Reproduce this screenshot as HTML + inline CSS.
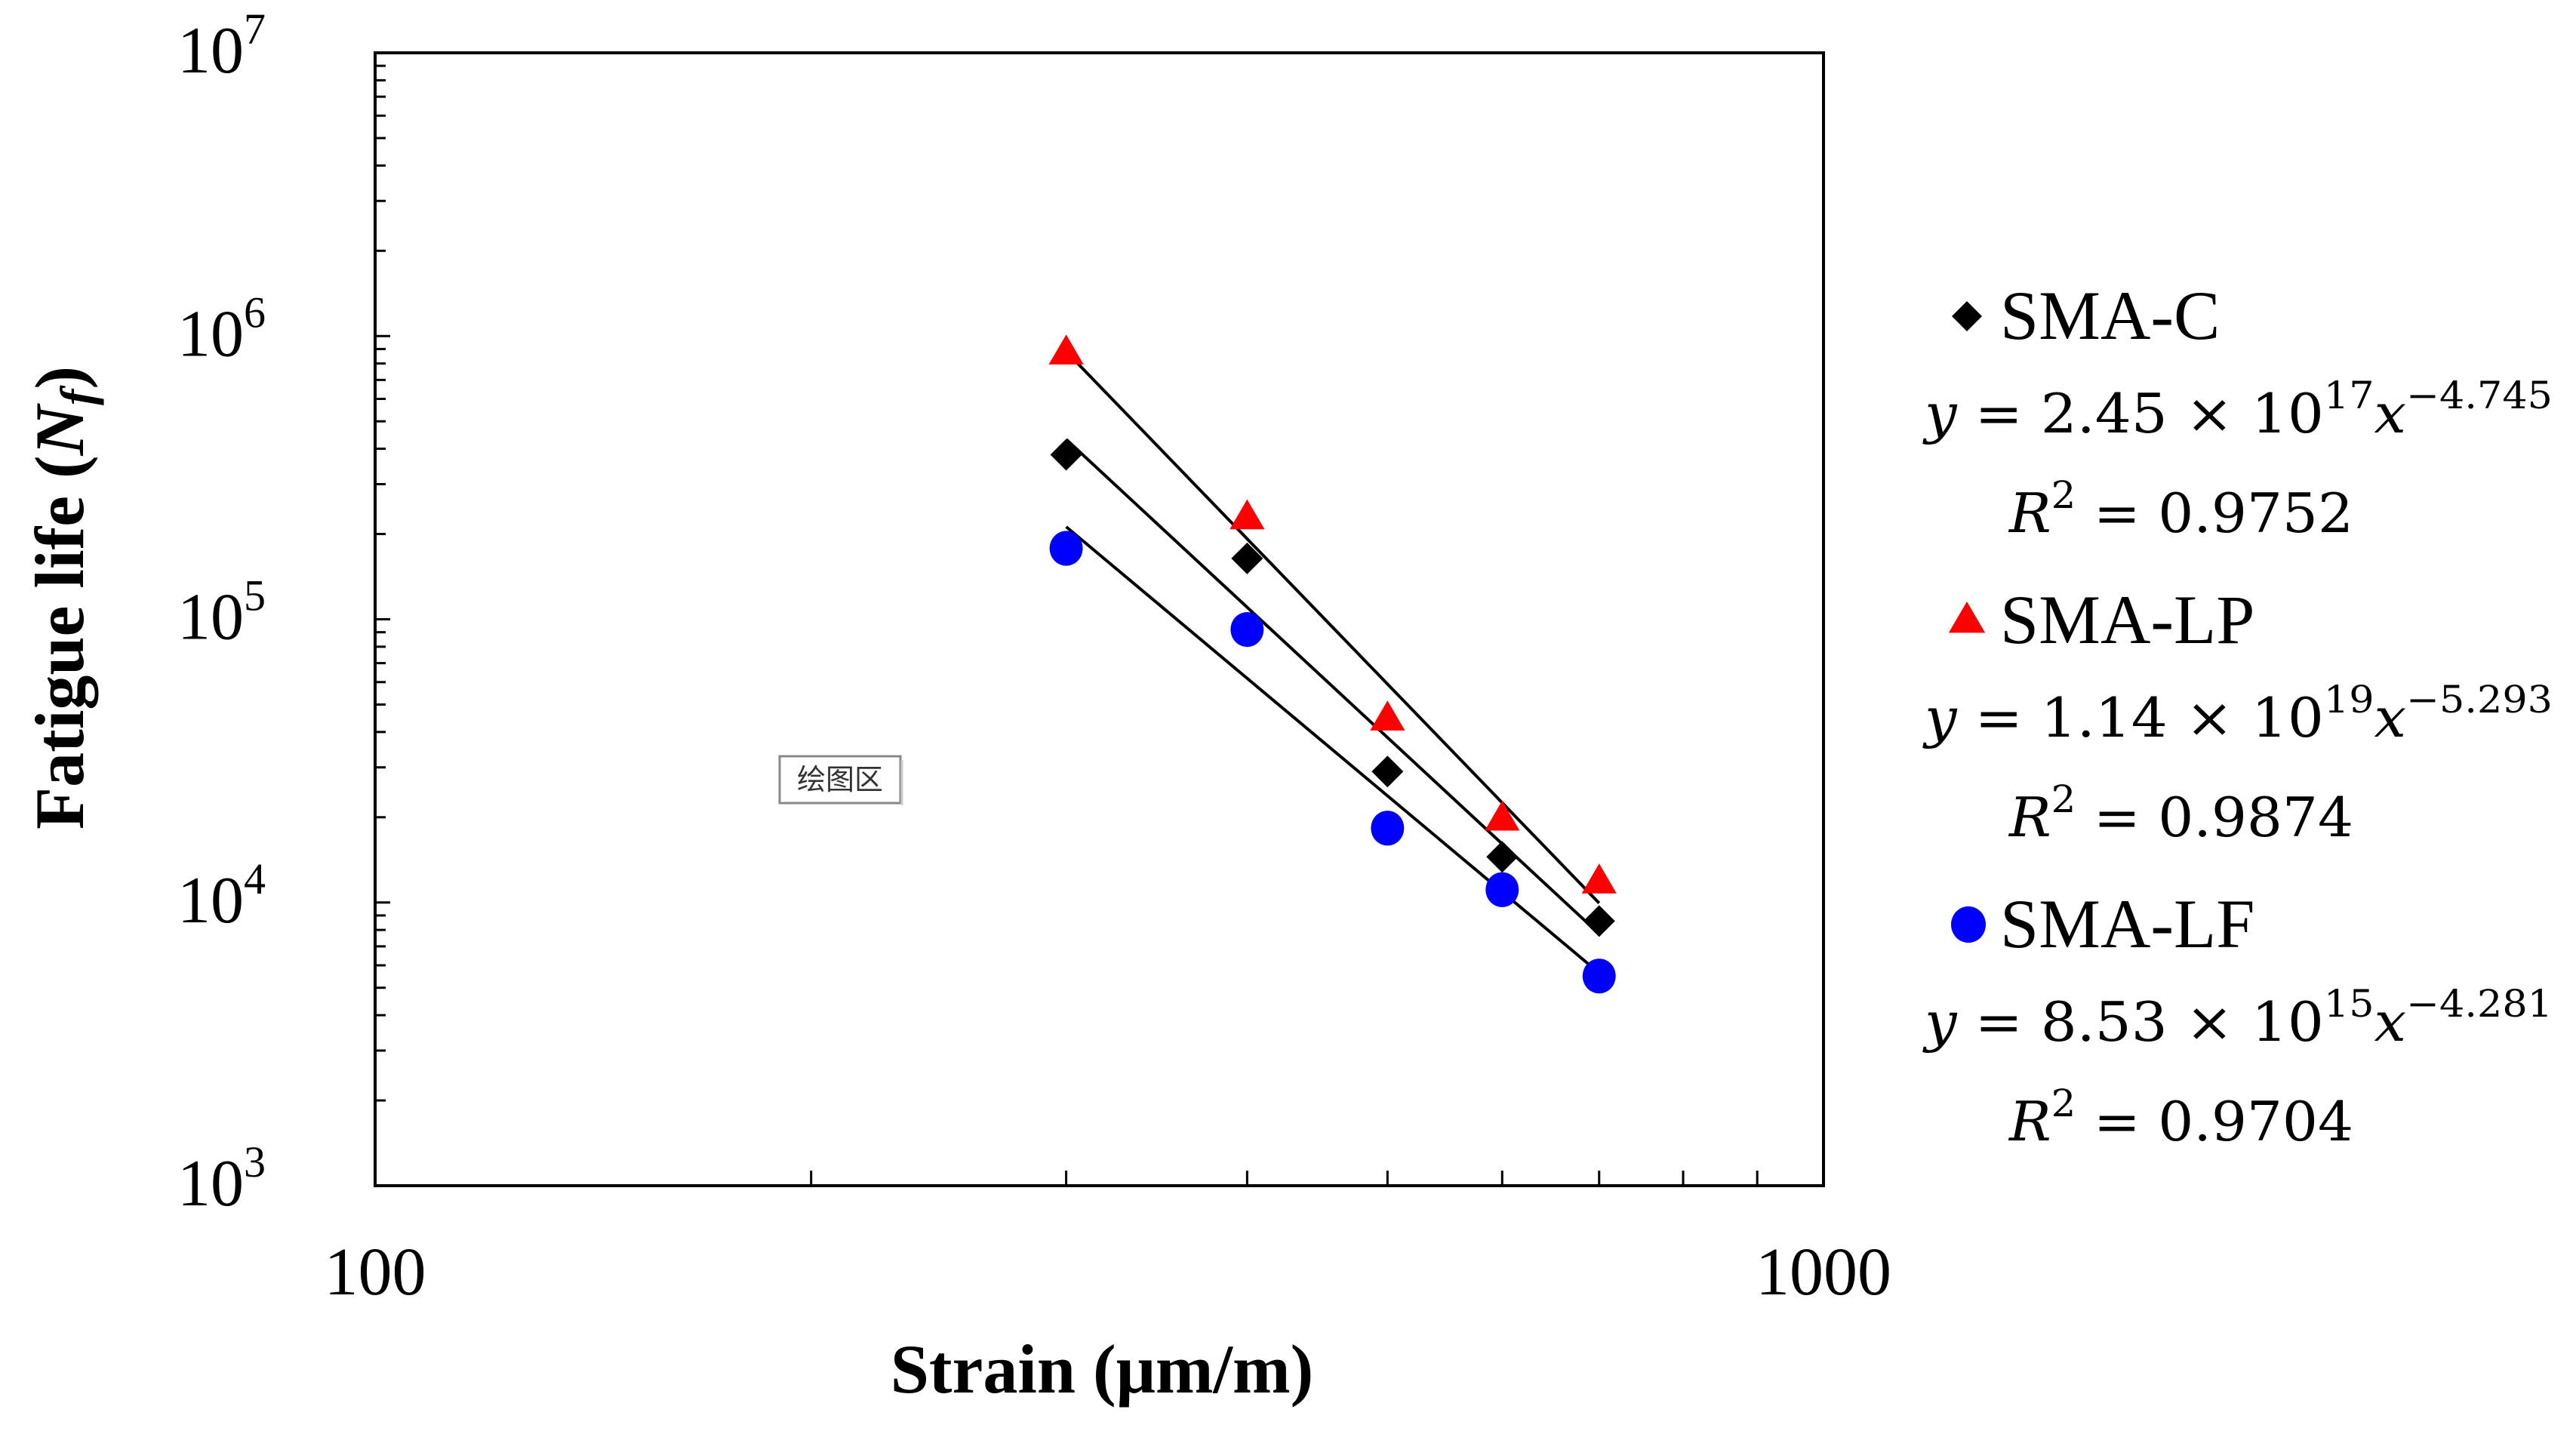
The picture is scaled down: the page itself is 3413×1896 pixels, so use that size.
<!DOCTYPE html>
<html><head><meta charset="utf-8"><style>
html,body{margin:0;padding:0;background:#fff;}
svg{display:block;}
text{font-family:"Liberation Serif",serif;}
.eq{font-family:"DejaVu Serif","Liberation Serif",serif;font-size:72px;}
</style></head><body>
<svg id="chart" width="3413" height="1896" viewBox="0 0 3413 1896" xmlns="http://www.w3.org/2000/svg">
<g id="plot"></g>
<g id="legend"></g>
</svg>
<script>
const strains = [300, 400, 500, 600, 700];
const smaC = [381000, 164000, 29000, 14500, 8600];
const smaLP = [863000, 226000, 44000, 19500, 11700];
const smaLF = [178000, 92000, 18300, 11100, 5500];
const fitCoef = [2.45e17, 1.14e19, 8.53e15];
const fitExp = [-4.745, -5.293, -4.281];
const yTickExps = [3, 4, 5, 6, 7];
const xTickLabels = ["100", "1000"];

const L=497,R=2416,T=70,B=1571;
const xs=v=>L+(Math.log10(v)-2)*(R-L);
const ys=v=>B-(Math.log10(v)-3)/4*(B-T);
const NS="http://www.w3.org/2000/svg";
const plot=document.getElementById('plot');
function mk(tag,attrs,parent){const e=document.createElementNS(NS,tag);for(const k in attrs)e.setAttribute(k,attrs[k]);(parent||plot).appendChild(e);return e;}

let fr=mk('rect',{x:L,y:T,width:R-L,height:B-T,fill:'none',stroke:'#000','stroke-width':4});


for(let d=3;d<7;d++){for(let m=1;m<10;m++){const v=m*Math.pow(10,d);const y=ys(v);
 const t=mk('line',{x1:L,x2:L+(m===1?20:14),y1:y,y2:y,stroke:'#000','stroke-width':3});
 
 }}
for(let m=2;m<10;m++){const x=xs(m*100);
 const t=mk('line',{x1:x,x2:x,y1:B,y2:B-20,stroke:'#000','stroke-width':3});
 
 }
yTickExps.forEach(e=>{const y=ys(Math.pow(10,e));
 const t=mk('text',{x:352,y:y+26,'text-anchor':'end','font-size':88});
 
 
 t.innerHTML='10<tspan dy="-38" font-size="58">'+e+'</tspan>';});
xTickLabels.forEach(s=>{const t=mk('text',{x:xs(+s),y:1715,'text-anchor':'middle','font-size':90});
 
 
 t.textContent=s;});
let xt=mk('text',{x:1460,y:1845,'text-anchor':'middle','font-size':92,'font-weight':'bold'});


xt.textContent='Strain (μm/m)';
let yt=mk('text',{x:0,y:0,'text-anchor':'middle','font-size':92,'font-weight':'bold',transform:'translate(110,792) rotate(-90)'});


yt.innerHTML='Fatigue life (<tspan font-style="italic">N<tspan font-size="64" dy="14">f</tspan></tspan><tspan dy="-14">)</tspan>';
fitCoef.forEach((c,i)=>{const x0=strains[0],x1=strains[strains.length-1];
 const f=x=>c*Math.pow(x,fitExp[i]);
 const l=mk('line',{x1:xs(x0),y1:ys(f(x0)),x2:xs(x1),y2:ys(f(x1)),stroke:'#000','stroke-width':4});
 
 });
function diamond(x,y,s,p){return mk('polygon',{points:`${x},${y-s} ${x+s},${y} ${x},${y+s} ${x-s},${y}`,fill:'#000'},p);}
function tri(x,y,s,p){return mk('polygon',{points:`${x},${y-s} ${x+s*1.05},${y+s*0.8} ${x-s*1.05},${y+s*0.8}`,fill:'#f00'},p);}
function circ(x,y,s,p){return mk('ellipse',{cx:x,cy:y,rx:s,ry:s*1.05,fill:'#00f'},p);}
strains.forEach((s,i)=>{
 let a=circ(xs(s),ys(smaLF[i]),22);
 
 
 let b=diamond(xs(s),ys(smaC[i]),21);
 
 
 let c=tri(xs(s),ys(smaLP[i])-4,22);
 
 
});
let tb=mk('rect',{x:1033,y:1002,width:160,height:62,fill:'#fff',stroke:'#888','stroke-width':3});


mk('line',{x1:1195,y1:1007,x2:1195,y2:1067,stroke:'#ccc','stroke-width':3});
let tt=mk('text',{x:1113,y:1046,'text-anchor':'middle','font-size':38,fill:'#333'});


tt.style.fontFamily='"Noto Sans CJK SC",sans-serif';
tt.textContent='绘图区';

const lg=document.getElementById('legend');
const names=['SMA-C','SMA-LP','SMA-LF'];
const coefs=[['2.45','17','4.745'],['1.14','19','5.293'],['8.53','15','4.281']];
const r2=['0.9752','0.9874','0.9704'];
const baseY=[449,852,1255];
names.forEach((n,i)=>{const y=baseY[i];
 let mkr = i===0?diamond(2606,y-30,20,lg):i===1?tri(2606,y-32,23,lg):circ(2608,y-30,23,lg);
 
 
 let t=mk('text',{x:2650,y:y,'font-size':92},lg);
 
 
 t.textContent=n;
 let e=mk('text',{x:2550,y:y+124,class:'eq',textLength:832,lengthAdjust:'spacingAndGlyphs'},lg);
 
 
 e.innerHTML=`<tspan font-style="italic">y</tspan> = ${coefs[i][0]} × 10<tspan dy="-32" font-size="50">${coefs[i][1]}</tspan><tspan dy="32" font-style="italic">x</tspan><tspan dy="-32" font-size="50">−${coefs[i][2]}</tspan>`;
 let r=mk('text',{x:2662,y:y+256,class:'eq',textLength:456,lengthAdjust:'spacingAndGlyphs'},lg);
 
 
 r.innerHTML=`<tspan font-style="italic">R</tspan><tspan dy="-32" font-size="50">2</tspan><tspan dy="32"> = ${r2[i]}</tspan>`;
});
</script>
</body></html>
